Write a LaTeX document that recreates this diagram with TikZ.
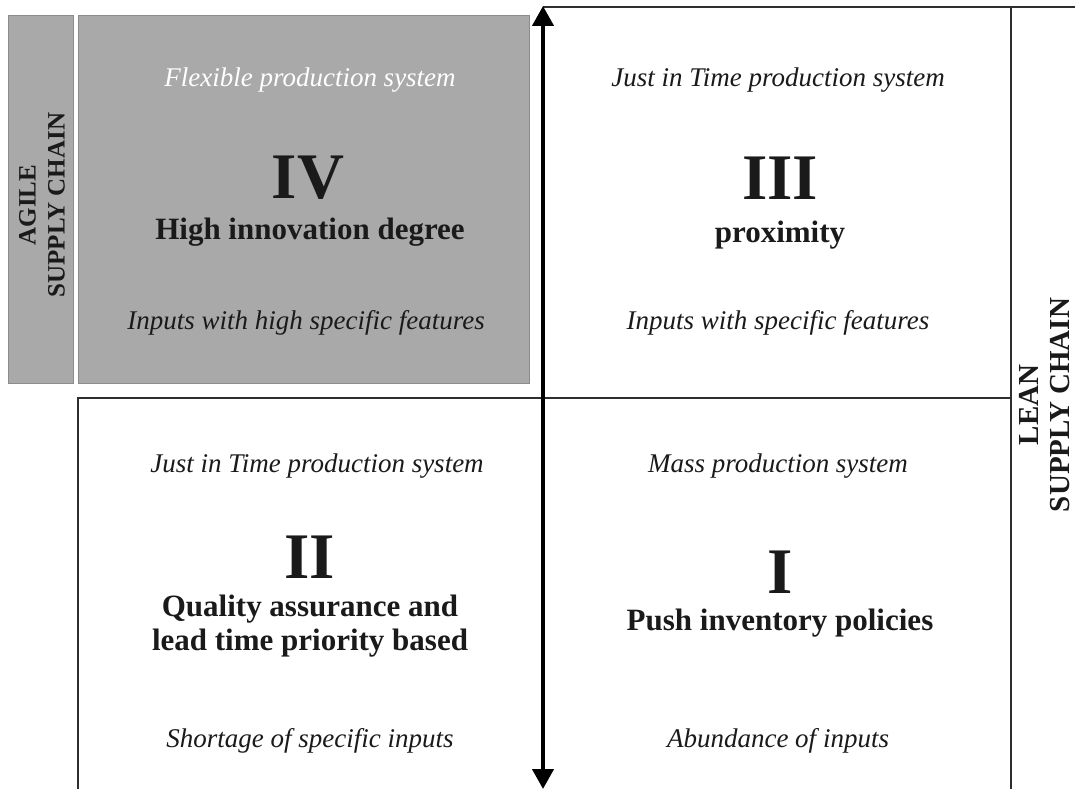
\documentclass[tikz,border=0pt]{standalone}
\usepackage{fontspec}
\setmainfont{Liberation Serif}
\usetikzlibrary{arrows.meta}
\definecolor{boxgray}{HTML}{A9A9A9}
\definecolor{boxedge}{HTML}{8C8C8C}
\definecolor{ink}{HTML}{1A1A1A}
\definecolor{rule}{HTML}{2E2E2E}
\tikzset{
  graybox/.style={fill=boxgray, draw=boxedge, line width=1.2pt, inner sep=0pt, anchor=north west},
  note/.style={font=\fontsize{27}{30}\selectfont\itshape, text=ink, inner sep=0pt},
  numeral/.style={font=\fontsize{65}{70}\selectfont\bfseries, text=ink, inner sep=0pt},
  head/.style={font=\fontsize{31}{34}\selectfont\bfseries, text=ink, inner sep=0pt, align=center},
  sidelabel/.style={font=\bfseries, text=ink, inner sep=0pt, align=center, rotate=90},
  border/.style={draw=rule, line width=2.4pt},
  axis/.style={draw=black, line width=4.2pt, {Triangle[length=20pt,width=21pt]}-{Triangle[length=20pt,width=21pt]}}
}
\begin{document}
\begin{tikzpicture}[x=1pt, y=-1pt]
\useasboundingbox (0,0) rectangle (1075,789);
\fill[white] (0,0) rectangle (1075,789);

% shaded cells of the agile quadrant
\node[graybox, minimum width=65pt, minimum height=368pt] (agilebox) at (8,15) {};
\node[graybox, minimum width=451pt, minimum height=368pt] (cellIV) at (78,15) {};

% frame corners
\coordinate (topL) at (543,7);
\coordinate (topR) at (1075,7);
\coordinate (rTop) at (1011,7);
\coordinate (rBot) at (1011,789);
\coordinate (midL) at (78,398);
\coordinate (midR) at (1011,398);
\coordinate (lBot) at (78,789);
\coordinate (axTop) at (543,6);
\coordinate (axBot) at (543,789);

\draw[border] (topL) -- (topR);
\draw[border] (rTop) -- (rBot);
\draw[border] (lBot) -- (midL) -- (midR);
\draw[axis] (axBot) -- (axTop);

% quadrant IV
\node[note, text=white] (fps) at (310,80) {Flexible production system};
\node[numeral] (nIV) at (308,178) {IV};
\node[head] (hIV) at (310,232) {High innovation degree};
\node[note] (iIV) at (306,323) {Inputs with high specific features};

% quadrant III
\node[note] (jitA) at (778,80) {Just in Time production system};
\node[numeral] (nIII) at (780,178) {III};
\node[head] (hIII) at (780,235) {proximity};
\node[note] (iIII) at (778,323) {Inputs with specific features};

% quadrant II
\node[note] (jitB) at (317,466) {Just in Time production system};
\node[numeral] (nII) at (310,557) {II};
\node[head] (hII) at (310,626) {Quality assurance and\\lead time priority based};
\node[note] (iII) at (310,741) {Shortage of specific inputs};

% quadrant I
\node[note] (mps) at (778,466) {Mass production system};
\node[numeral] (nI) at (780,572) {I};
\node[head] (hI) at (780,623) {Push inventory policies};
\node[note] (iI) at (778,741) {Abundance of inputs};

% side labels
\node[sidelabel, font=\fontsize{25}{29}\selectfont\bfseries] (agile) at (42,205) {AGILE\\SUPPLY CHAIN};
\node[sidelabel, font=\fontsize{29}{31}\selectfont\bfseries] (lean) at (1045,405) {LEAN\\SUPPLY CHAIN};
\end{tikzpicture}
\end{document}
